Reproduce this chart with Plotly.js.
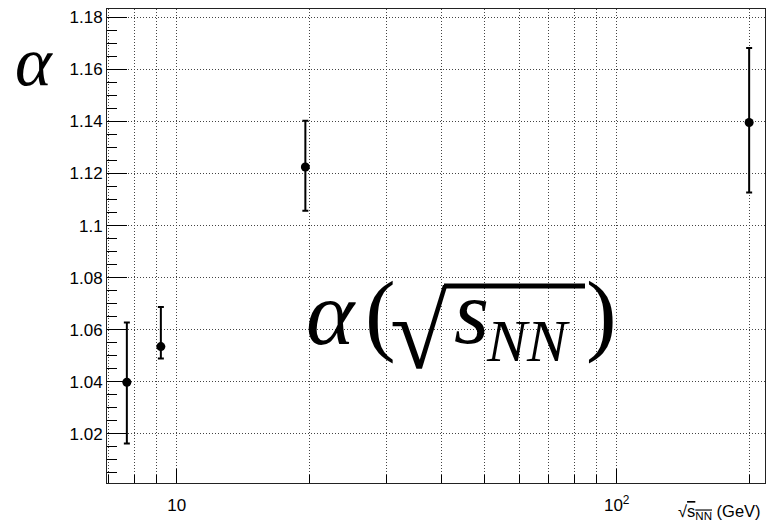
<!DOCTYPE html>
<html>
<head>
<meta charset="utf-8">
<script src="https://cdn.plot.ly/plotly-3.0.1.min.js"></script>
<style>
  html, body { margin: 0; padding: 0; background: #fff; }
  #chart { width: 767px; height: 529px; }
</style>
</head>
<body>
<div id="chart"></div>
<script>
// Collision energies (GeV) and fitted alpha with asymmetric uncertainties
const energy = [7.7, 9.2, 19.6, 200];
const alpha = [1.0398, 1.0535, 1.1225, 1.1396];
const errPlus = [0.0230, 0.0152, 0.0178, 0.0286];
const errMinus = [0.0235, 0.0046, 0.0168, 0.0269];

// Axis ticks
const xMajorVals = [10, 100];
const xMajorText = ['10', '10<sup>2</sup>'];
const xRange = [6.94, 217.3];
const yRange = [1.0011, 1.1832];

const W = 767, H = 529;
const M = { l: 107, r: 2, t: 9, b: 46 };
const PW = W - M.l - M.r, PH = H - M.t - M.b;
// pixel -> paper helpers for text placement
const px = x => (x - M.l) / PW;
const py = y => (H - M.b - y) / PH;

const labelFont = { family: 'Liberation Sans, Arial, sans-serif', size: 17, color: '#000' };
const mathFont = 'Liberation Serif, Times New Roman, serif';
const gridStyle = { showgrid: true, gridcolor: '#444', griddash: '1px,2px', gridwidth: 1 };

const points = {
  x: energy,
  y: alpha,
  type: 'scatter',
  mode: 'markers',
  marker: { color: '#000', size: 9 },
  error_y: {
    type: 'data', symmetric: false,
    array: errPlus, arrayminus: errMinus,
    color: '#000', thickness: 2, width: 3
  },
  hoverinfo: 'x+y'
};

// empty companion trace so the label-only x axis is drawn
const labelAxisHolder = {
  x: [], y: [], type: 'scatter', mode: 'markers',
  xaxis: 'x2', yaxis: 'y', hoverinfo: 'skip', showlegend: false
};

const layout = {
  width: W, height: H,
  margin: M,
  paper_bgcolor: '#fff', plot_bgcolor: '#fff',
  showlegend: false,
  font: labelFont,
  xaxis: Object.assign({
    type: 'log',
    range: xRange.map(Math.log10),
    tickmode: 'array', tickvals: xMajorVals,
    showticklabels: false,
    ticks: 'inside', ticklen: 14, tickwidth: 1, tickcolor: '#000',
    minor: Object.assign({
      dtick: 'D1', ticks: 'inside', ticklen: 8, tickwidth: 1, tickcolor: '#000'
    }, gridStyle),
    showline: true, linecolor: '#222', linewidth: 1, mirror: true,
    zeroline: false
  }, gridStyle),
  // decade labels, pushed a little below the frame by an invisible outside tick
  xaxis2: {
    type: 'log', overlaying: 'x', anchor: 'y', side: 'bottom',
    range: xRange.map(Math.log10),
    tickmode: 'array', tickvals: xMajorVals, ticktext: xMajorText,
    ticks: 'outside', ticklen: 7, tickcolor: 'rgba(0,0,0,0)',
    showgrid: false, showline: false, zeroline: false,
    tickfont: labelFont
  },
  yaxis: Object.assign({
    range: yRange,
    tick0: 1, dtick: 0.02,
    ticks: 'inside', ticklen: 20, tickwidth: 1, tickcolor: '#000',
    minor: { dtick: 0.005, ticks: 'inside', ticklen: 10, tickwidth: 1, tickcolor: '#000', showgrid: false },
    showline: true, linecolor: '#222', linewidth: 1, mirror: true,
    zeroline: false,
    tickfont: labelFont
  }, gridStyle),
  annotations: [
    // axis captions
    { xref: 'paper', yref: 'paper', x: px(13), y: py(62), xanchor: 'left', yanchor: 'middle',
      text: '<i>α</i>', showarrow: false, font: { family: mathFont, size: 70, color: '#000' } },
    { xref: 'paper', yref: 'paper', x: px(763), y: py(512), xanchor: 'right', yanchor: 'middle',
      text: '√<span style="text-decoration:overline">s<sub>NN</sub></span> (GeV)', showarrow: false,
      font: { family: labelFont.family, size: 16.5, color: '#000' } },
    // large formula  alpha(sqrt(s_NN))
    { xref: 'paper', yref: 'paper', x: px(304), y: py(313), xanchor: 'left', yanchor: 'middle',
      text: '<i>α</i>', showarrow: false, font: { family: mathFont, size: 92, color: '#000' } },
    { xref: 'paper', yref: 'paper', x: px(363), y: py(313), xanchor: 'left', yanchor: 'middle',
      text: '(', showarrow: false, font: { family: mathFont, size: 92, color: '#000' } },
    { xref: 'paper', yref: 'paper', x: px(388), y: py(332), xanchor: 'left', yanchor: 'middle',
      text: '√', showarrow: false, font: { family: mathFont, size: 105, color: '#000' } },
    { xref: 'paper', yref: 'paper', x: px(452), y: py(312), xanchor: 'left', yanchor: 'middle',
      text: '<i>s</i>', showarrow: false, font: { family: mathFont, size: 90, color: '#000' } },
    { xref: 'paper', yref: 'paper', x: px(484), y: py(341), xanchor: 'left', yanchor: 'middle',
      text: '<i>NN</i>', showarrow: false, font: { family: mathFont, size: 60, color: '#000' } },
    { xref: 'paper', yref: 'paper', x: px(584), y: py(313), xanchor: 'left', yanchor: 'middle',
      text: ')', showarrow: false, font: { family: mathFont, size: 92, color: '#000' } }
  ],
  shapes: [
    // radical bar over s_NN
    { type: 'line', xref: 'paper', yref: 'paper', x0: px(444), x1: px(585), y0: py(286), y1: py(286),
      line: { color: '#000', width: 5 } }
  ]
};

Plotly.newPlot('chart', [points, labelAxisHolder], layout, { displayModeBar: false, staticPlot: true });
</script>
</body>
</html>
